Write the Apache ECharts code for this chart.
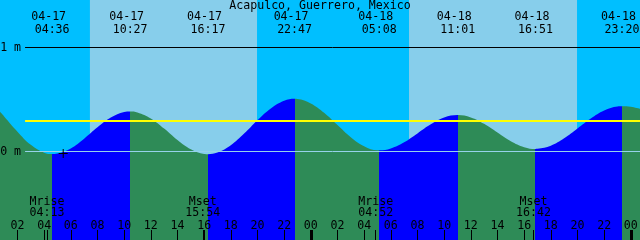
<!DOCTYPE html>
<html>
<head>
<meta charset="utf-8">
<title>Acapulco tides</title>
<script src="https://cdn.jsdelivr.net/npm/echarts@6/dist/echarts.min.js"></script>
<style>
  html, body { margin: 0; padding: 0; background: #fff; overflow: hidden; }
  #chart { width: 640px; height: 240px; }
</style>
</head>
<body>
<div id="chart"></div>
<script>
// hours counted from 04-17 00:00
const tideHours = [0.69, 1, 2, 3, 4, 4.6, 5, 6, 7, 8, 9, 10, 10.45, 11, 12, 13, 14, 15, 16, 16.28,
  17, 18, 19, 20, 21, 22, 22.78, 23, 24, 25, 26, 27, 28, 29, 29.13, 30, 31, 32, 33, 34, 35.02,
  36, 37, 38, 39, 40, 40.85, 41, 42, 43, 44, 45, 46, 47, 47.33, 48, 48.69]
// water level, metres
const tideLevels = [0.381, 0.337, 0.191, 0.064, -0.012, -0.025, -0.02, 0.03, 0.123, 0.232, 0.326, 0.379, 0.385, 0.376, 0.318, 0.22, 0.11, 0.021, -0.024, -0.026,
  -0.01, 0.06, 0.172, 0.3, 0.413, 0.487, 0.506, 0.505, 0.462, 0.372, 0.254, 0.137, 0.05, 0.012, 0.012, 0.03, 0.089, 0.174, 0.261, 0.326, 0.35,
  0.328, 0.266, 0.182, 0.099, 0.042, 0.025, 0.026, 0.056, 0.127, 0.221, 0.317, 0.394, 0.433, 0.435, 0.43, 0.41]

// high / low water (first one is a low)
const extremeDays = [0, 0, 0, 0, 1, 1, 1, 1]
const extremeDates = ['04-17', '04-17', '04-17', '04-17', '04-18', '04-18', '04-18', '04-18']
const extremeTimes = ['04:36', '10:27', '16:17', '22:47', '05:08', '11:01', '16:51', '23:20']

// daylight
const sunDays = [0, 1]
const sunriseTimes = ['07:26', '07:22']
const sunsetTimes = ['19:58', '19:58']

// moon
const moonDays = [0, 0, 1, 1]
const moonEvents = ['Mrise', 'Mset', 'Mrise', 'Mset']
const moonTimes = ['04:13', '15:54', '04:52', '16:42']

const hourTicks = [2, 4, 6, 8, 10, 12, 14, 16, 18, 20, 22, 24, 26, 28, 30, 32, 34, 36, 38, 40, 42, 44, 46, 48]
const midnightTicks = [24, 48]

const datumLevels = [1, 0]
const datumLabels = ['1 m', '0 m']
const meanLevel = 0.3
const nowMark = [5.43, -0.02]

const startHour = 0.69
const endHour = 48.69
const lineStartHour = 2.57

const toHours = (day, hhmm) => {
  const [h, m] = hhmm.split(':').map(Number)
  return day * 24 + h + m / 60
}
const pad = n => (n < 10 ? '0' : '') + n
const findIndex = (list, v) => list.findIndex(x => Math.abs(x - v) < 1e-6)

const extremeHours = extremeTimes.map((t, i) => toHours(extremeDays[i], t))
const moonHours = moonTimes.map((t, i) => toHours(moonDays[i], t))

const font = { fontFamily: 'DejaVu Sans Mono', fontSize: 11.6, color: '#000' }

// rising tide: low -> next high
const risePieces = []
for (let i = 0; i + 1 < extremeHours.length; i += 2) {
  risePieces.push({ gte: extremeHours[i], lt: extremeHours[i + 1], color: '#0000ff' })
}

const baseAxis = {
  type: 'value',
  min: startHour,
  max: endHour,
  z: 10,
  axisLine: { show: false, onZero: false },
  splitLine: { show: false }
}

const chart = echarts.init(document.getElementById('chart'), null, { renderer: 'canvas', width: 640, height: 240 })

chart.setOption({
  animation: false,
  title: {
    text: 'Acapulco, Guerrero, Mexico',
    left: 'center',
    top: 0,
    padding: 0,
    z: 10,
    textStyle: { ...font, fontWeight: 'normal', lineHeight: 12 }
  },
  grid: {
    left: 0, right: 0, top: 0, bottom: 0,
    outerBoundsMode: 'none',
    containLabel: false,
    show: true,
    backgroundColor: '#00bfff',
    borderWidth: 0
  },
  visualMap: {
    show: false,
    type: 'piecewise',
    dimension: 0,
    seriesIndex: 0,
    pieces: risePieces,
    outOfRange: { color: '#2e8b57' }
  },
  xAxis: [
    {
      ...baseAxis,
      position: 'bottom',
      axisTick: {
        show: true, inside: true, length: 10,
        lineStyle: { color: '#000', width: 1 },
        customValues: hourTicks.concat(moonHours)
      },
      axisLabel: {
        inside: true, margin: 8, ...font, lineHeight: 12,
        customValues: hourTicks,
        formatter: v => pad(Math.round(v) % 24)
      }
    },
    {
      ...baseAxis,
      position: 'bottom',
      axisTick: {
        show: true, inside: true, length: 10,
        lineStyle: { color: '#000', width: 3 },
        customValues: midnightTicks
      },
      axisLabel: { show: false }
    },
    {
      ...baseAxis,
      position: 'top',
      axisTick: { show: false },
      axisLabel: {
        inside: true, margin: 11, ...font, lineHeight: 12.5,
        customValues: extremeHours,
        formatter: v => {
          const i = findIndex(extremeHours, v)
          return extremeDates[i] + ' \n' + extremeTimes[i]
        }
      }
    },
    {
      ...baseAxis,
      position: 'bottom',
      axisTick: { show: false },
      axisLabel: {
        inside: true, margin: 21, ...font, lineHeight: 11.5,
        customValues: moonHours,
        formatter: v => {
          const i = findIndex(moonHours, v)
          return moonEvents[i] + '\n' + moonTimes[i]
        }
      }
    }
  ],
  yAxis: {
    type: 'value',
    show: false,
    min: -0.851,
    max: 1.4567
  },
  series: [
    {
      type: 'line',
      xAxisIndex: 0,
      data: tideHours.map((h, i) => [h, tideLevels[i]]),
      smooth: 0.4,
      showSymbol: false,
      silent: true,
      lineStyle: { width: 0 },
      areaStyle: { opacity: 1, origin: 'start' },
      markArea: {
        silent: true,
        itemStyle: { color: '#87ceeb' },
        data: sunDays.map((d, i) => [
          { xAxis: toHours(d, sunriseTimes[i]) },
          { xAxis: toHours(d, sunsetTimes[i]) }
        ])
      },
      markLine: {
        silent: true,
        symbol: ['none', 'none'],
        label: { show: false },
        data: [
          ...datumLevels.map((lv, i) => [
            {
              coord: [lineStartHour, lv],
              lineStyle: { color: lv === 0 ? '#96d2ea' : '#000', width: 1, type: 'solid' },
              label: { show: true, position: 'start', distance: 4, formatter: datumLabels[i], ...font }
            },
            { coord: [endHour, lv] }
          ]),
          [
            { coord: [lineStartHour, meanLevel], lineStyle: { color: '#ffff00', width: 2, type: 'solid' } },
            { coord: [endHour, meanLevel] }
          ]
        ]
      },
      markPoint: {
        silent: true,
        symbol: 'path://M4 0H5V9H4Z M0 4H9V5H0Z',
        symbolSize: 9,
        itemStyle: { color: '#000' },
        label: { show: false },
        data: [{ coord: nowMark }]
      }
    }
  ]
})
</script>
</body>
</html>
